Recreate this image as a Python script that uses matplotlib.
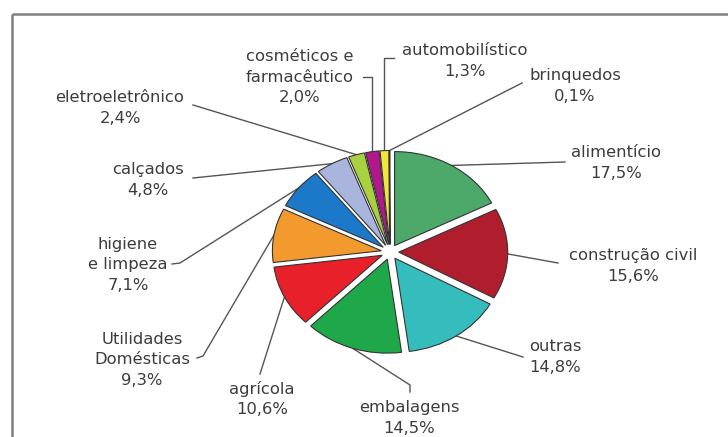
import numpy as np
import matplotlib
matplotlib.use("Agg")
import matplotlib.pyplot as plt

# setores, percentuais e cores (sentido horario a partir do topo)
setores = ["alimentício", "construção civil", "outras", "embalagens", "agrícola",
           "Utilidades\nDomésticas", "higiene\ne limpeza", "calçados",
           "eletroeletrônico", "cosméticos e\nfarmacêutico", "automobilístico",
           "brinquedos"]
valores = [17.5, 15.6, 14.8, 14.5, 10.6, 9.3, 7.1, 4.8, 2.4, 2.0, 1.3, 0.1]
cores = ["#4CA96A", "#B01E2E", "#35BDBD", "#1FA84A", "#E8202A", "#F29A2E",
         "#1C78C8", "#A9B5DD", "#A9D13F", "#B3178C", "#F2E63A", "#111111"]

# posicao dos rotulos (pixels a partir do topo) e o ponto onde a linha sai do texto
rot_xy = [(616, 163), (633, 266), (555, 357), (409, 418), (262, 399),
          (142, 360), (128, 265), (148, 180), (120, 108), (300, 77),
          (465, 61), (575, 86)]
linha_ini = [[(565, 162)], [(558, 263)], [(523, 357)], [(410, 392), (410, 385)],
             [(260, 374)], [(197, 358), (203, 356)], [(172, 264), (180, 263)],
             [(193, 178)], [(193, 105)], [(363, 77), None], [(394, 58), None],
             [(522, 83)]]

W, H = 728, 437
fig = plt.figure(figsize=(W / 100, H / 100), dpi=100)
fig.patch.set_facecolor("white")

# camada de fundo em coordenadas de pixel
ov = fig.add_axes([0, 0, 1, 1])
ov.set_xlim(0, W)
ov.set_ylim(H, 0)
ov.axis("off")

# moldura (apenas topo e esquerda visiveis)
ov.plot([12, W + 5], [14, 14], color="#808080", lw=1.8, solid_capstyle="butt")
ov.plot([12, 12], [14, H + 5], color="#808080", lw=1.8, solid_capstyle="butt")

# pizza levemente achatada
cx, cy, rx, ry, L = 390, 252, 109, 94, 1.3
aw, ah = 2 * L * rx, 2 * L * ry
pax = fig.add_axes([(cx - aw / 2) / W, (H - cy - ah / 2) / H, aw / W, ah / H])
explode = [0.08] * len(valores)
wedges, _ = pax.pie(valores, colors=cores, startangle=90, counterclock=False,
                    explode=explode,
                    wedgeprops=dict(edgecolor="#333333", linewidth=0.8))
pax.set_aspect("auto")
pax.set_xlim(-L, L)
pax.set_ylim(-L, L)
pax.patch.set_visible(False)

fig.canvas.draw()
inv = ov.transData.inverted()
for w, ini, (tx, ty), nome, v in zip(wedges, linha_ini, rot_xy, setores, valores):
    ang = np.deg2rad((w.theta1 + w.theta2) / 2)
    px = w.center[0] + w.r * np.cos(ang)
    py = w.center[1] + w.r * np.sin(ang)
    ex, ey = inv.transform(pax.transData.transform((px, py)))
    pts = []
    for p in ini:
        if p is None:
            pts.append((ex, pts[-1][1]))
        else:
            pts.append(p)
    pts.append((ex, ey))
    xs, ys = zip(*pts)
    ov.plot(xs, ys, color="#555555", lw=1.0, zorder=1)

    txt = nome + "\n" + f"{v:.1f}".replace(".", ",") + "%"
    ov.text(tx, ty, txt, ha="center", va="center", fontsize=11.8,
            color="#3c3c3c", family="DejaVu Sans", linespacing=1.42,
            multialignment="center")

fig.savefig("out.png", dpi=100, facecolor="white")
